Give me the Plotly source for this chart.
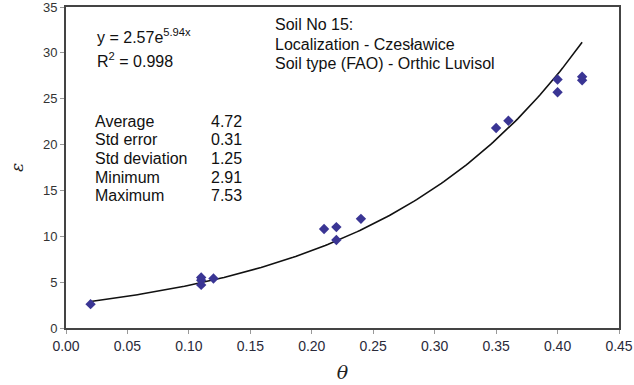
import numpy as np
import plotly.graph_objects as go

# Data
theta = [0.02, 0.11, 0.11, 0.11, 0.12, 0.21, 0.22, 0.22, 0.24, 0.35, 0.36, 0.40, 0.40, 0.42, 0.42]
eps   = [2.6, 5.5, 5.2, 4.7, 5.4, 10.8, 11.0, 9.6, 11.9, 21.8, 22.6, 27.1, 25.7, 27.0, 27.4]

# Exponential trend line shown in the chart: y = a * exp(b x)
fit_a = 2.57
fit_b = 5.94
fit_x_range = [0.02, 0.42]

stat_labels = ["Average", "Std error", "Std deviation", "Minimum", "Maximum"]
stat_values = ["4.72", "0.31", "1.25", "2.91", "7.53"]
info_lines = ["Soil No 15:", "Localization - Czesławice", "Soil type (FAO) - Orthic Luvisol"]

x_ticks = [0.00, 0.05, 0.10, 0.15, 0.20, 0.25, 0.30, 0.35, 0.40, 0.45]
y_ticks = [0, 5, 10, 15, 20, 25, 30, 35]

# plot area in pixels
L, R, T, B = 66, 619, 7, 328
W, H = 634, 385
def px(x):
    return (x - L) / (R - L)
def py(y):
    return (B - y) / (B - T)

xf = np.linspace(fit_x_range[0], fit_x_range[1], 200)
yf = fit_a * np.exp(fit_b * xf)

fig = go.Figure()
fig.add_trace(go.Scatter(x=xf, y=yf, mode="lines",
                         line=dict(color="#111111", width=1.6), hoverinfo="skip"))
fig.add_trace(go.Scatter(x=theta, y=eps, mode="markers",
                         marker=dict(symbol="diamond", size=8, color="#3a3594")))

font = dict(family="Liberation Sans, Arial, sans-serif", size=16, color="#111111")
ann = []
ann.append(dict(x=px(95), y=py(36), text="y = 2.57e<sup>5.94x</sup>"))
ann.append(dict(x=px(95), y=py(60), text="R<sup>2</sup> = 0.998"))
ys = [121, 139.5, 158, 177, 195]
for lab, val, yy in zip(stat_labels, stat_values, ys):
    ann.append(dict(x=px(93), y=py(yy), text=lab))
    ann.append(dict(x=px(244), y=py(yy), text=val, xanchor="right"))
for line, yy in zip(info_lines, [24, 44, 63]):
    ann.append(dict(x=px(273), y=py(yy), text=line))
for a in ann:
    a.setdefault("xanchor", "left")
    a.update(xref="paper", yref="paper", yanchor="middle", showarrow=False, font=font)

fig.update_layout(
    width=W, height=H,
    margin=dict(l=L, r=W - R, t=T, b=H - B),
    paper_bgcolor="white", plot_bgcolor="white",
    showlegend=False,
    annotations=ann,
    font=dict(family="Liberation Sans, Arial, sans-serif", color="#333333"),
)
fig.update_xaxes(range=[0, 0.45], tickvals=x_ticks, tickformat=".2f",
                 showgrid=False, zeroline=False, showline=True, mirror=True,
                 linecolor="#444444", linewidth=2, ticks="outside", ticklen=4,
                 tickcolor="#999999", tickfont=dict(size=14, color="#2a2a3a"),
                 automargin=False, ticklabeloverflow="allow",
                 title=dict(text="θ", standoff=13,
                            font=dict(family="DejaVu Serif", size=19, color="#222222", style="italic")))
fig.update_yaxes(range=[0, 35], tickvals=y_ticks,
                 showgrid=False, zeroline=False, showline=True, mirror=True,
                 linecolor="#444444", linewidth=2, ticks="outside", ticklen=4,
                 tickcolor="#999999", tickfont=dict(size=13, color="#333333"),
                 automargin=False, ticklabeloverflow="allow",
                 title=dict(text="ε", standoff=15,
                            font=dict(family="DejaVu Serif", size=17, color="#222222", style="italic")))

fig.write_html("out.html")
